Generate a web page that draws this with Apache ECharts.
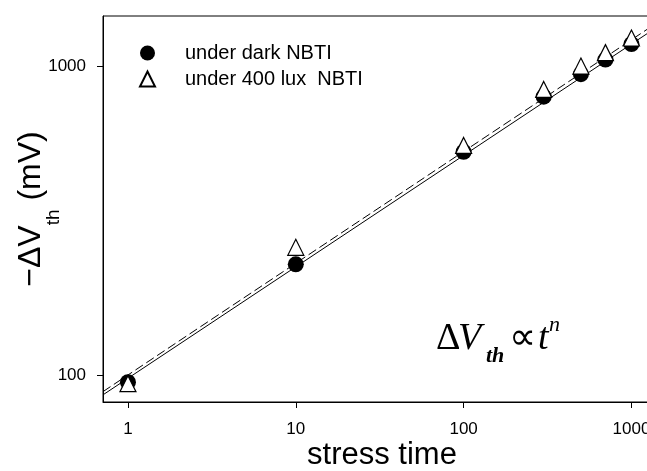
<!DOCTYPE html>
<html>
<head>
<meta charset="utf-8">
<script src="https://cdn.jsdelivr.net/npm/echarts@6/dist/echarts.min.js"></script>
<style>
html, body { margin: 0; padding: 0; background: #fff; overflow: hidden; }
/* plot frame runs past the right edge of the figure, as in the original */
#chart { width: 661px; height: 471px; }
</style>
</head>
<body>
<div id="chart"></div>
<script>
// measured points (stress time vs -dVth in mV)
var stressTime = [1, 10, 100, 300, 500, 700, 1000];
var darkVth = [95, 229, 530, 800, 946, 1055, 1184];
var luxVth = [94, 260, 556, 844, 1005, 1111, 1239];
// power-law fit lines, end values
var fitTime = [0.71, 1500];
var darkFit = [86.5, 1371];
var luxFit = [88.6, 1416];
// axis ticks
var xTicks = [1, 10, 100, 1000];
var yTicks = [100, 1000];

function pairs(xs, ys) {
    return xs.map(function (x, i) { return [x, ys[i]]; });
}

var sans = '"Liberation Sans", Arial, sans-serif';
var serif = '"Liberation Serif", "Times New Roman", serif';

var myChart = echarts.init(document.getElementById('chart'));

function piece(text, x, baseline, size, style, weight) {
    return {
        type: 'text',
        x: x,
        y: baseline - 0.34 * size,
        style: {
            text: text,
            font: (style || 'normal') + ' ' + (weight || 'normal') + ' ' + size + 'px ' + serif,
            fill: '#000',
            verticalAlign: 'middle'
        }
    };
}

var option = {
    animation: false,
    backgroundColor: '#fff',
    grid: {
        left: 103,
        top: 16,
        right: 0,
        bottom: 69,
        outerBoundsMode: 'none',
        containLabel: false,
        show: true,
        borderColor: '#000',
        borderWidth: 1
    },
    legend: {
        orient: 'vertical',
        left: 134,
        top: 38,
        itemWidth: 15,
        itemHeight: 15,
        itemGap: 6,
        textStyle: {
            fontFamily: sans,
            fontSize: 20,
            color: '#000',
            padding: [0, 0, 0, 25]
        },
        data: [
            { name: 'under dark NBTI', icon: 'circle' },
            { name: 'under 400 lux  NBTI', icon: 'triangle' }
        ]
    },
    xAxis: {
        type: 'log',
        logBase: 10,
        min: 0.71,
        max: 1500,
        name: 'stress time',
        nameLocation: 'middle',
        nameGap: 38,
        nameMoveOverlap: false,
        nameTextStyle: { fontFamily: sans, fontSize: 31, color: '#000' },
        axisLine: { lineStyle: { color: '#000', width: 1 } },
        axisTick: { length: 6, customValues: xTicks, lineStyle: { color: '#000' } },
        axisLabel: {
            customValues: xTicks,
            margin: 19,
            fontFamily: sans,
            fontSize: 17,
            color: '#000',
            formatter: function (v) { return String(Math.round(v)); }
        },
        minorTick: { show: false },
        splitLine: { show: false }
    },
    yAxis: {
        type: 'log',
        logBase: 10,
        min: 82,
        max: 1460,
        name: '{m|\u2212\u0394V}{s|th}{m| (mV)}',
        nameLocation: 'middle',
        nameRotate: 90,
        nameGap: 56,
        nameMoveOverlap: false,
        nameTextStyle: {
            color: '#000',
            rich: {
                m: { fontFamily: sans, fontSize: 32, lineHeight: 32, color: '#000' },
                s: { fontFamily: sans, fontSize: 19, lineHeight: 19, color: '#000', padding: [45, 0, 0, 0] }
            }
        },
        axisLine: { lineStyle: { color: '#000', width: 1 } },
        axisTick: { length: 6, customValues: yTicks, lineStyle: { color: '#000' } },
        axisLabel: {
            customValues: yTicks,
            margin: 17,
            fontFamily: sans,
            fontSize: 17,
            color: '#000',
            formatter: function (v) { return String(Math.round(v)); }
        },
        minorTick: { show: false },
        splitLine: { show: false }
    },
    graphic: [
        piece('\u0394', 436, 352, 38),
        piece('V', 458, 352, 38, 'italic'),
        piece('th', 486, 364, 22, 'italic', 'bold'),
        piece('\u221D', 509, 352, 38),
        piece('t', 538, 352, 38, 'italic'),
        piece('n', 549, 333, 22, 'italic')
    ],
    series: [
        {
            name: 'dark fit',
            type: 'line',
            data: pairs(fitTime, darkFit),
            symbol: 'none',
            lineStyle: { color: '#000', width: 1 },
            z: 1
        },
        {
            name: 'lux fit',
            type: 'line',
            data: pairs(fitTime, luxFit),
            symbol: 'none',
            lineStyle: { color: '#000', width: 1, type: [9, 4] },
            z: 1
        },
        {
            name: 'under dark NBTI',
            type: 'scatter',
            data: pairs(stressTime, darkVth),
            symbol: 'circle',
            symbolSize: 16,
            itemStyle: { color: '#000', opacity: 1 },
            z: 2
        },
        {
            name: 'under 400 lux  NBTI',
            type: 'scatter',
            data: pairs(stressTime, luxVth),
            symbol: 'triangle',
            symbolSize: 16,
            itemStyle: { color: '#fff', borderColor: '#000', borderWidth: 1.2, opacity: 1 },
            z: 3
        }
    ]
};

myChart.setOption(option);
</script>
</body>
</html>
